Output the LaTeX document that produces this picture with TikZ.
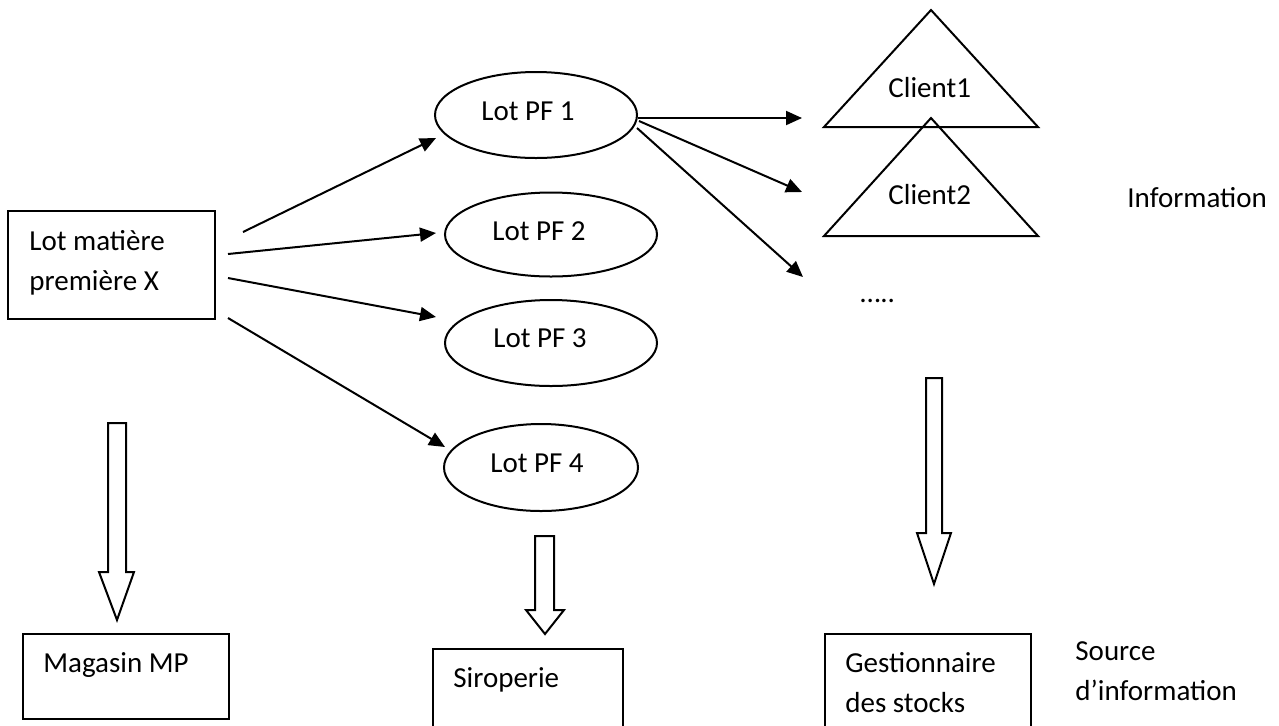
\documentclass[tikz,border=0pt]{standalone}
\usepackage{fontspec}
\setmainfont{Carlito}
\usetikzlibrary{arrows.meta,shapes.geometric}
\tikzset{
  line/.style={line width=1pt},
  box/.style={line, draw, rectangle, inner sep=0pt, anchor=north west},
  lot/.style={line, draw, ellipse, inner sep=0pt},
  txt/.style={inner sep=0pt, anchor=base west, font=\fontsize{14.5}{20}\selectfont},
  flow/.style={line, -{Triangle[length=8pt,width=7pt]}},
  bigarrow/.style={line, draw, fill=white, line join=miter},
  client/.style={line, draw, line join=miter},
}
\begin{document}
\begin{tikzpicture}[x=0.5pt,y=-0.5pt]
\useasboundingbox (0,0) rectangle (1279,725);

% raw material lot
\node[box, minimum width=103.5pt, minimum height=54pt] (lotmp) at (7,210) {};
\node[txt] (lotmpa) at (29,250) {Lot matière};
\node[txt] (lotmpb) at (29,290) {première X};

% finished product lots
\node[lot, minimum width=101pt, minimum height=43pt] (pf1) at (536,115) {};
\node[lot, minimum width=106pt, minimum height=42pt] (pf2) at (551,234.5) {};
\node[lot, minimum width=106pt, minimum height=43pt] (pf3) at (551,343) {};
\node[lot, minimum width=97pt, minimum height=43.5pt] (pf4) at (541,467.5) {};
\node[txt] (pf1t) at (481,120) {Lot PF 1};
\node[txt] (pf2t) at (492,240) {Lot PF 2};
\node[txt] (pf3t) at (493,347) {Lot PF 3};
\node[txt] (pf4t) at (490,472) {Lot PF 4};

% clients
\coordinate (c1apex) at (931,10);
\coordinate (c1l) at (824,127);
\coordinate (c1r) at (1038,127);
\coordinate (c2apex) at (931,118);
\coordinate (c2l) at (824,236);
\coordinate (c2r) at (1038,236);
\draw[client] (c1apex) -- (c1r) -- (c1l) -- cycle;
\draw[client] (c2apex) -- (c2r) -- (c2l) -- cycle;
\node[txt] (cl1) at (888,97) {Client1};
\node[txt] (cl2) at (888,204) {Client2};
\node[txt] (more) at (860,302) {…..};
\node[txt] (info) at (1127,207) {Information};

% arrows from the raw material lot
\coordinate (s1) at (243,232);  \coordinate (e1) at (436,138);
\coordinate (s2) at (228,254);  \coordinate (e2) at (436,233);
\coordinate (s3) at (228,278);  \coordinate (e3) at (436,317);
\coordinate (s4) at (228,318);  \coordinate (e4) at (445,447);
\draw[flow] (s1) -- (e1);
\draw[flow] (s2) -- (e2);
\draw[flow] (s3) -- (e3);
\draw[flow] (s4) -- (e4);

% arrows from Lot PF 1 to the clients
\coordinate (p1) at (638,118);  \coordinate (q1) at (802,118);
\coordinate (p2) at (639,121);  \coordinate (q2) at (802,192);
\coordinate (p3) at (637,128);  \coordinate (q3) at (803,277);
\draw[flow] (p1) -- (q1);
\draw[flow] (p2) -- (q2);
\draw[flow] (p3) -- (q3);

% block arrows
\draw[bigarrow] (108,423) -- (126,423) -- (126,572) -- (134,572) -- (117,620)
  -- (99,572) -- (108,572) -- cycle;
\draw[bigarrow] (535,536) -- (554,536) -- (554,610) -- (564,610) -- (545,634)
  -- (526,610) -- (535,610) -- cycle;
\draw[bigarrow] (926,378) -- (942,378) -- (942,533) -- (951,533) -- (934,584)
  -- (917,533) -- (926,533) -- cycle;

% destinations
\node[box, minimum width=103pt, minimum height=42.5pt] (mag) at (22,633) {};
\node[txt] (magt) at (43,672) {Magasin MP};
\node[box, minimum width=95pt, minimum height=60pt] (sir) at (432,648) {};
\node[txt] (sirt) at (453,687) {Siroperie};
\node[box, minimum width=103pt, minimum height=60pt] (gest) at (824,633) {};
\node[txt] (gesta) at (845,672) {Gestionnaire};
\node[txt] (gestb) at (845,712) {des stocks};
\node[txt] (srca) at (1075,660) {Source};
\node[txt] (srcb) at (1075,700) {d’information};
\end{tikzpicture}
\end{document}
